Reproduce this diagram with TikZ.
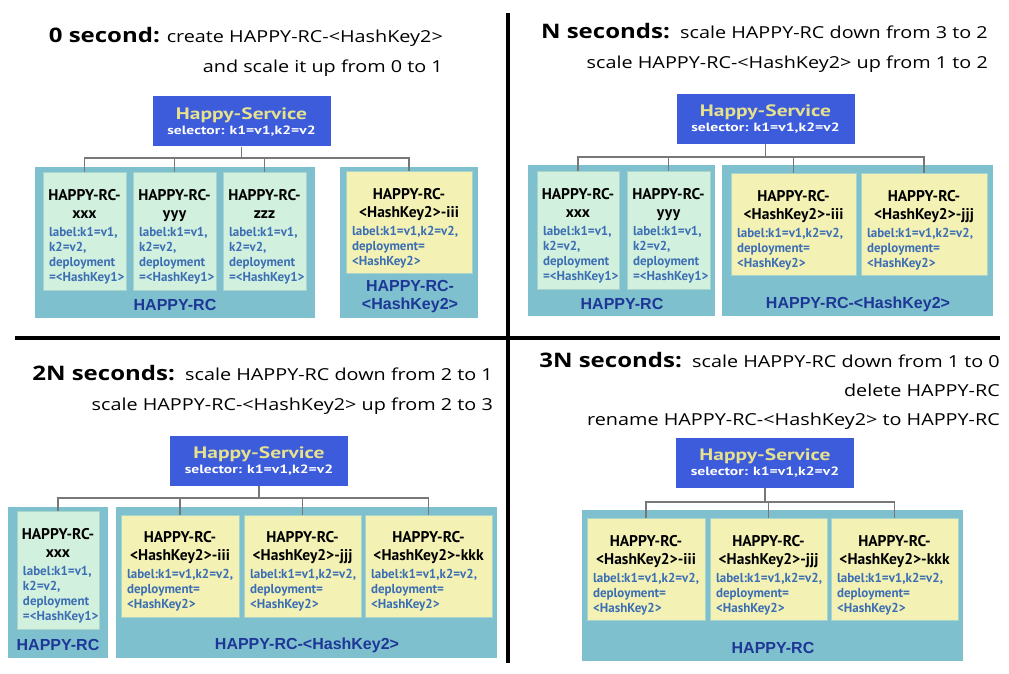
\documentclass[tikz,border=0pt]{standalone}
\usepackage{fontspec}
\setmainfont{Open Sans}[FakeStretch=1.2]
\newfontfamily\podfont{PT Sans}
\newfontfamily\svcfont{PT Sans}[FakeStretch=1.3]
\newfontfamily\grpfont{Liberation Sans}
\definecolor{svcblue}{HTML}{3C5CDC}
\definecolor{svctitle}{HTML}{E6E18C}
\definecolor{grpteal}{HTML}{7EC0CE}
\definecolor{podgreen}{HTML}{D2F0DE}
\definecolor{podyellow}{HTML}{F3F2B4}
\definecolor{podedge}{HTML}{A8D4CC}
\definecolor{podtext}{HTML}{3C6EB4}
\definecolor{grpdark}{HTML}{1E3796}
\definecolor{busgray}{HTML}{777777}
\newcommand{\podhead}[1]{\vskip7pt\centerline{\color{black}\fontsize{15.5}{18}\selectfont HAPPY-RC-}\vskip3pt
  \centerline{\color{black}\fontsize{15.5}{18}\selectfont #1}\vskip3pt\raggedright\noindent}
\begin{document}
\begin{tikzpicture}[
    x=1pt, y=-1pt,
    service/.style={rectangle, fill=svcblue, minimum width=178pt, minimum height=50pt, align=center, inner sep=0pt, text=white, font=\svcfont\bfseries\fontsize{12}{15}\selectfont},
    group/.style={rectangle, fill=grpteal, minimum width=#1, minimum height=151pt, inner sep=0pt},
    grplabel/.style={font=\grpfont\bfseries\fontsize{16}{18}\selectfont, text=grpdark, align=center, inner sep=0pt},
    greenpod/.style={rectangle, fill=podgreen, draw=podedge, line width=0.8pt, text width=#1, inner xsep=6pt, inner ysep=0pt, minimum height=118pt, text=podtext, font=\podfont\bfseries\fontsize{13}{15}\selectfont},
    yellowpod/.style={greenpod=#1, fill=podyellow, minimum height=102pt},
    bus/.style={draw=busgray, line width=1.8pt},
    heading/.style={anchor=north east, align=right, inner sep=0pt, font=\fontsize{16.5}{30}\selectfont},
    divider/.style={line width=4.5pt, black}
]
\useasboundingbox[fill=white] (0,0) rectangle (1009,674);

% Dividers
\coordinate (vtop) at (508,13);
\coordinate (vbot) at (508,663);
\coordinate (hleft) at (15,338);
\coordinate (hright) at (1000,338);
\draw[divider] (vtop) -- (vbot);
\draw[divider] (hleft) -- (hright);

% Headings
\node[heading] (head1) at (443,27) {{\fontsize{20}{30}\selectfont\bfseries 0 second:} create HAPPY-RC-<HashKey2>\\and scale it up from 0 to 1};
\node[heading] (head2) at (988,23.5) {{\fontsize{20}{30}\selectfont\bfseries N seconds:}\ \ scale HAPPY-RC down from 3 to 2\\scale HAPPY-RC-<HashKey2> up from 1 to 2};
\node[heading] (head3) at (493,365) {{\fontsize{20}{30}\selectfont\bfseries 2N seconds:}\ \ scale HAPPY-RC down from 2 to 1\\scale HAPPY-RC-<HashKey2> up from 2 to 3};
\node[heading, font=\fontsize{16.5}{29}\selectfont] (head4) at (1000,352) {{\fontsize{20}{29}\selectfont\bfseries 3N seconds:}\ \ scale HAPPY-RC down from 1 to 0\\delete HAPPY-RC\\rename HAPPY-RC-<HashKey2> to HAPPY-RC};

% Services
\node[service] (svc1) at (241.5,121.5) {{\color{svctitle}\fontsize{16.5}{18}\selectfont Happy-Service}\\selector: k1=v1,k2=v2};
\node[service] (svc2) at (765.5,119) {{\color{svctitle}\fontsize{16.5}{18}\selectfont Happy-Service}\\selector: k1=v1,k2=v2};
\node[service] (svc3) at (259,460.5) {{\color{svctitle}\fontsize{16.5}{18}\selectfont Happy-Service}\\selector: k1=v1,k2=v2};
\node[service] (svc4) at (765,462.5) {{\color{svctitle}\fontsize{16.5}{18}\selectfont Happy-Service}\\selector: k1=v1,k2=v2};

% Groups - 0 second
\node[group=280pt] (rc1) at (175,242.5) {};
\node[group=138pt] (hk1) at (409,242.5) {};
\node[grplabel] (rc1lbl) at (175,305) {HAPPY-RC};
\node[grplabel] (hk1lbl) at (410,297) {HAPPY-RC-\\<HashKey2>};

% Groups - N seconds
\node[group=187pt] (rc2) at (621.5,240) {};
\node[group=271pt] (hk2) at (857.5,240) {};
\node[grplabel] (rc2lbl) at (622,304) {HAPPY-RC};
\node[grplabel] (hk2lbl) at (858,304) {HAPPY-RC-<HashKey2>};

% Groups - 2N seconds
\node[group=100pt] (rc3) at (58,582.5) {};
\node[group=381pt] (hk3) at (306.5,582.5) {};
\node[grplabel] (rc3lbl) at (58,645) {HAPPY-RC};
\node[grplabel] (hk3lbl) at (307,645) {HAPPY-RC-<HashKey2>};

% Groups - 3N seconds
\node[group=381pt] (rc4) at (772.5,585.5) {};
\node[grplabel] (rc4lbl) at (773,648) {HAPPY-RC};

% Pods - 0 second
\node[greenpod=71pt] (p1x) at (84.5,231) {\podhead{xxx}label:k1=v1,\\k2=v2,\\deployment\\=<HashKey1>};
\node[greenpod=71pt] (p1y) at (174.5,231) {\podhead{yyy}label:k1=v1,\\k2=v2,\\deployment\\=<HashKey1>};
\node[greenpod=71pt] (p1z) at (264.5,231) {\podhead{zzz}label:k1=v1,\\k2=v2,\\deployment\\=<HashKey1>};
\node[yellowpod=114pt] (p1i) at (409,222.5) {\podhead{<HashKey2>-iii}label:k1=v1,k2=v2,\\deployment=\\<HashKey2>};

% Pods - N seconds
\node[greenpod=70pt] (p2x) at (578,230) {\podhead{xxx}label:k1=v1,\\k2=v2,\\deployment\\=<HashKey1>};
\node[greenpod=71pt] (p2y) at (668.5,230) {\podhead{yyy}label:k1=v1,\\k2=v2,\\deployment\\=<HashKey1>};
\node[yellowpod=113pt] (p2i) at (793.5,224.5) {\podhead{<HashKey2>-iii}label:k1=v1,k2=v2,\\deployment=\\<HashKey2>};
\node[yellowpod=114pt] (p2j) at (924,224.5) {\podhead{<HashKey2>-jjj}label:k1=v1,k2=v2,\\deployment=\\<HashKey2>};

% Pods - 2N seconds
\node[greenpod=70pt] (p3x) at (58,570) {\podhead{xxx}label:k1=v1,\\k2=v2,\\deployment\\=<HashKey1>};
\node[yellowpod=106pt] (p3i) at (180,566) {\podhead{<HashKey2>-iii}label:k1=v1,k2=v2,\\deployment=\\<HashKey2>};
\node[yellowpod=105pt] (p3j) at (302.5,566) {\podhead{<HashKey2>-jjj}label:k1=v1,k2=v2,\\deployment=\\<HashKey2>};
\node[yellowpod=115pt] (p3k) at (428.5,566) {\podhead{<HashKey2>-kkk}label:k1=v1,k2=v2,\\deployment=\\<HashKey2>};

% Pods - 3N seconds
\node[yellowpod=106pt] (p4i) at (646,569.5) {\podhead{<HashKey2>-iii}label:k1=v1,k2=v2,\\deployment=\\<HashKey2>};
\node[yellowpod=105pt] (p4j) at (768.5,569.5) {\podhead{<HashKey2>-jjj}label:k1=v1,k2=v2,\\deployment=\\<HashKey2>};
\node[yellowpod=115pt] (p4k) at (894.5,569.5) {\podhead{<HashKey2>-kkk}label:k1=v1,k2=v2,\\deployment=\\<HashKey2>};

% Selector buses
\coordinate (bus1) at (241.5,158);
\draw[bus] (svc1.south) -- (bus1);
\draw[bus] (bus1) -| (p1x.north);
\draw[bus] (bus1) -| (p1y.north);
\draw[bus] (bus1) -| (p1z.north);
\draw[bus] (bus1) -| (p1i.north);

\coordinate (bus2) at (765.5,157);
\draw[bus] (svc2.south) -- (bus2);
\draw[bus] (bus2) -| (p2x.north);
\draw[bus] (bus2) -| (p2y.north);
\draw[bus] (bus2) -| (p2i.north);
\draw[bus] (bus2) -| (p2j.north);

\coordinate (bus3) at (259,498);
\draw[bus] (svc3.south) -- (bus3);
\draw[bus] (bus3) -| (p3x.north);
\draw[bus] (bus3) -| (p3i.north);
\draw[bus] (bus3) -| (p3j.north);
\draw[bus] (bus3) -| (p3k.north);

\coordinate (bus4) at (765,502);
\draw[bus] (svc4.south) -- (bus4);
\draw[bus] (bus4) -| (p4i.north);
\draw[bus] (bus4) -| (p4j.north);
\draw[bus] (bus4) -| (p4k.north);

\end{tikzpicture}
\end{document}
